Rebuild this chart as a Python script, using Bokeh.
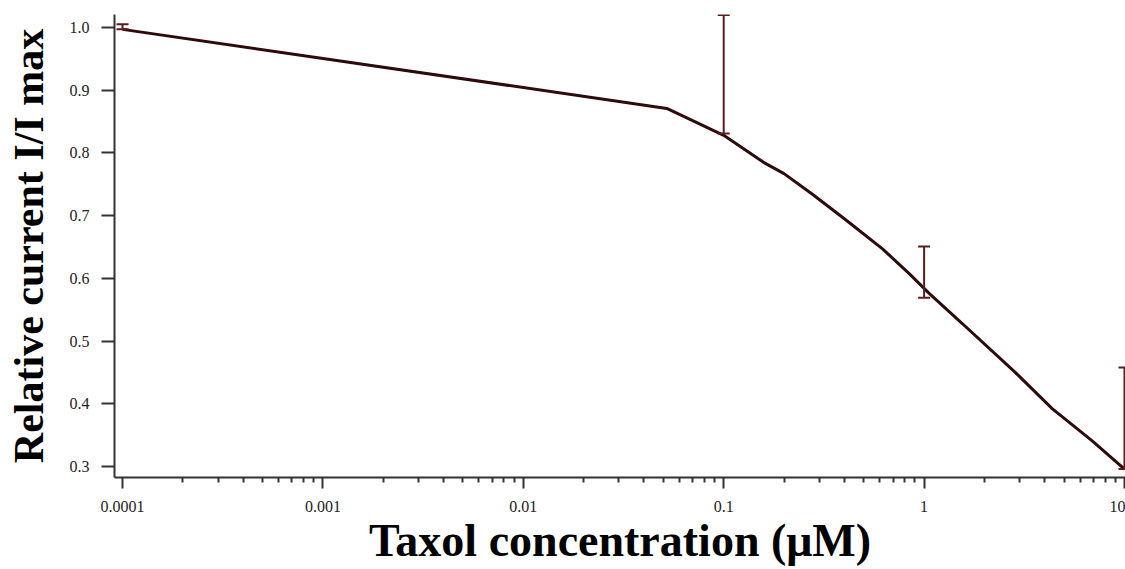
from bokeh.plotting import figure
from bokeh.models import FixedTicker, Range1d
from bokeh.embed import file_html
from bokeh.resources import INLINE

# ---- data ----
fit_conc = [0.0001, 0.052, 0.1, 0.158, 0.2, 0.275, 0.4, 0.62, 0.84, 1.06, 1.55, 2.85, 4.37, 6.9, 10]
fit_rel = [0.997, 0.871, 0.828, 0.785, 0.767, 0.735, 0.695, 0.647, 0.608, 0.576, 0.528, 0.450, 0.392, 0.341, 0.296]

err_conc = [0.0001, 0.1, 1, 10]
err_low = [0.997, 0.831, 0.569, 0.296]
err_high = [1.005, 1.020, 0.651, 0.458]

x_ticks = [0.0001, 0.001, 0.01, 0.1, 1, 10]
x_tick_labels = ["0.0001", "0.001", "0.01", "0.1", "1", "10"]
y_ticks = [0.3, 0.4, 0.5, 0.6, 0.7, 0.8, 0.9, 1.0]
y_tick_labels = ["0.3", "0.4", "0.5", "0.6", "0.7", "0.8", "0.9", "1.0"]

x_title = "Taxol concentration (\u03bcM)"
y_title = "Relative current I/I max"

SERIF = "Liberation Serif"
LINE_COLOR = "#2e0b0b"
ERR_COLOR = "#5b1e1e"
AXIS_COLOR = "#333333"

p = figure(
    width=1125, height=569,
    x_axis_type="log",
    x_range=Range1d(10 ** -4.04, 10 ** 1.005),
    y_range=Range1d(0.2825, 1.0207),
    output_backend="svg", toolbar_location=None,
    min_border_left=114, min_border_right=0, min_border_top=14, min_border_bottom=92,
)
p.outline_line_color = None
p.grid.visible = False
p.background_fill_color = "white"

# minor ticks for the log axis (2..9 within each decade)
minor = []
for d in x_ticks[:-1]:
    for m in range(2, 10):
        minor.append(d * m)

p.xaxis.ticker = FixedTicker(ticks=x_ticks, minor_ticks=minor)
p.xaxis.major_label_overrides = {t: l for t, l in zip(x_ticks, x_tick_labels)}
p.yaxis.ticker = FixedTicker(ticks=y_ticks, minor_ticks=[])
p.yaxis.major_label_overrides = {t: l for t, l in zip(y_ticks, y_tick_labels)}

for ax in (p.xaxis, p.yaxis):
    ax.axis_line_color = AXIS_COLOR
    ax.axis_line_width = 2
    ax.major_tick_line_color = AXIS_COLOR
    ax.major_tick_line_width = 2
    ax.minor_tick_line_color = AXIS_COLOR
    ax.minor_tick_line_width = 2
    ax.major_tick_in = 0
    ax.minor_tick_in = 0
    ax.major_label_text_font = SERIF
    ax.major_label_text_font_size = "16px"
    ax.major_label_text_color = "#222222"
    ax.axis_label_text_font = SERIF
    ax.axis_label_text_font_style = "bold"
    ax.axis_label_text_color = "#000000"

p.xaxis.major_tick_out = 11
p.xaxis.minor_tick_out = 5
p.xaxis.major_label_standoff = 12
p.xaxis.axis_label = x_title
p.xaxis.axis_label_text_font_size = "46px"
p.xaxis.axis_label_standoff = 0

p.yaxis.major_tick_out = 13
p.yaxis.minor_tick_out = 0
p.yaxis.major_label_standoff = 12
p.yaxis.axis_label = y_title
p.yaxis.axis_label_text_font_size = "42px"
p.yaxis.axis_label_standoff = 15

# fitted curve
p.line(fit_conc, fit_rel, line_color=LINE_COLOR, line_width=3)

# error bars
p.segment(x0=err_conc, y0=err_low, x1=err_conc, y1=err_high, line_color=ERR_COLOR, line_width=2)
p.scatter(err_conc, err_high, marker="dash", size=12, line_color=ERR_COLOR, line_width=2)
p.scatter(err_conc, err_low, marker="dash", size=12, line_color=ERR_COLOR, line_width=2)

open("out.html", "w").write(file_html(p, INLINE))
